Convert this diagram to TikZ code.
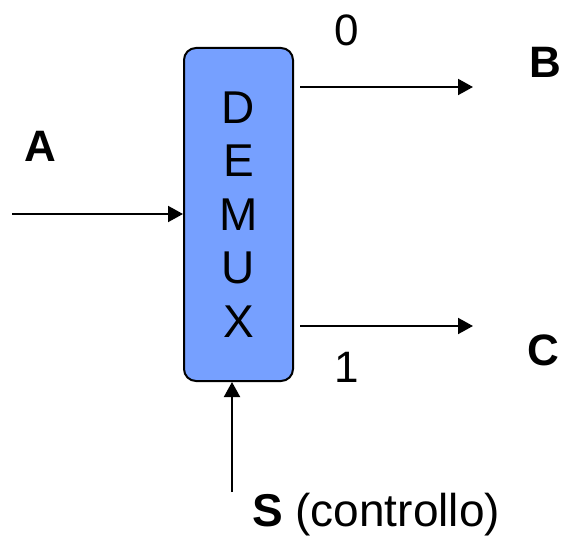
\documentclass[tikz,border=0pt]{standalone}
\usepackage{fontspec}
\setmainfont{Liberation Sans}
\usetikzlibrary{arrows.meta}
\definecolor{boxblue}{RGB}{118,160,255}
\tikzset{
  conn/.style={line width=2pt,-{Triangle[length=15pt,width=16pt]}},
  lbl/.style={inner sep=0pt,font=\fontsize{44}{44}\selectfont},
  blbl/.style={inner sep=0pt,font=\fontsize{44}{44}\selectfont\bfseries},
}
\begin{document}
\begin{tikzpicture}[x=1pt,y=-1pt]
\useasboundingbox (0,0) rectangle (565,537);
\node[draw=black,line width=2pt,fill=boxblue,rounded corners=12pt,
      minimum width=109pt,minimum height=333pt,inner sep=0pt,align=center,
      font=\fontsize{46}{53.5}\selectfont] (demux) at (238.5,214.5) {D\\E\\M\\U\\X};
\coordinate (ain) at (12,214);
\coordinate (bout) at (300,87);
\coordinate (bend) at (473,87);
\coordinate (cout) at (300,326);
\coordinate (cend) at (473,326);
\coordinate (sin) at (232,492);
\draw[conn] (ain) -- (ain -| demux.west);
\draw[conn] (bout) -- (bend);
\draw[conn] (cout) -- (cend);
\draw[conn] (sin) -- (sin |- demux.south);
\node[lbl] (zero) at (347,30) {0};
\node[lbl] (one) at (347,367) {1};
\node[blbl] (B) at (545,62) {B};
\node[blbl] (C) at (543,350) {C};
\node[blbl] (A) at (40,146) {A};
\node[lbl,anchor=base,font=\fontsize{46}{46}\selectfont] (S) at (376,526) {\textbf{S} (controllo)};
\end{tikzpicture}
\end{document}
